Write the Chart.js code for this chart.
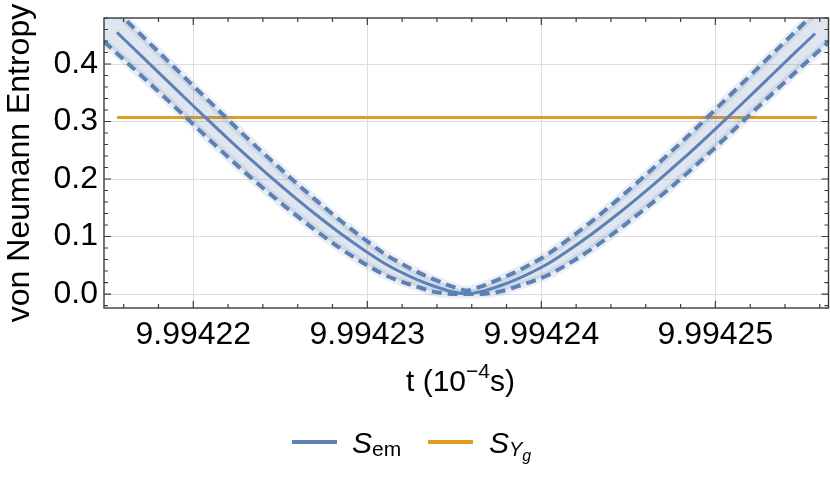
<!DOCTYPE html>
<html>
<head>
<meta charset="utf-8">
<script src="https://cdn.jsdelivr.net/npm/chart.js@4.4.1/dist/chart.umd.min.js"></script>
<style>
  html, body { margin: 0; padding: 0; background: #fff; }
  #wrap { position: relative; width: 830px; height: 485px; font-family: 'Liberation Sans', Arial, sans-serif; color: #000; }
  #c { position: absolute; left: 0; top: 0; }
  .txt { position: absolute; white-space: nowrap; line-height: 30px; font-size: 30px; }
  .txt sup, .txt sub { line-height: 0; }
  .lgline { position: absolute; height: 3.5px; }
</style>
</head>
<body>
<div id="wrap">
  <canvas id="c" width="830" height="485"></canvas>
  <div class="txt" id="xtitle" style="left:406px; top:366px;">t (10<sup style="font-size:21px; vertical-align:13px;">&minus;4</sup>s)</div>
  <div class="lgline" style="left:292px; top:440px; width:45px; background:#5e81b5;"></div>
  <div class="txt" style="left:352px; top:428px;"><i>S</i><sub style="font-size:21px; vertical-align:-3px;">em</sub></div>
  <div class="lgline" style="left:428px; top:440px; width:45px; background:#e19c24;"></div>
  <div class="txt" style="left:489px; top:428px;"><i>S</i><sub style="font-size:20px; vertical-align:-3px;"><i>Y</i><sub style="font-size:16px; vertical-align:-5px;"><i>g</i></sub></sub></div>
</div>
<script>
// ---- data (t in units of 10^-4 s) ----
const tCenter = [9.99421561, 9.99421702, 9.99421846, 9.99421990, 9.99422133, 9.99422277, 9.99422421, 9.99422564, 9.99422708, 9.99422852, 9.99422995, 9.99423110, 9.99423196, 9.99423283, 9.99423369, 9.99423426, 9.99423467, 9.99423513, 9.99423541, 9.99423570, 9.99423599, 9.99423627, 9.99423673, 9.99423714, 9.99423771, 9.99423857, 9.99423944, 9.99424030, 9.99424145, 9.99424288, 9.99424432, 9.99424576, 9.99424719, 9.99424863, 9.99425007, 9.99425150, 9.99425294, 9.99425438, 9.99425573];
const sCenter = [0.455, 0.414, 0.372, 0.330, 0.289, 0.2485, 0.210, 0.173, 0.1374, 0.104, 0.0737, 0.0513, 0.0377, 0.0255, 0.0153, 0.0093, 0.0055, 0.0025, 0.0008, 0, 0.0008, 0.0025, 0.0055, 0.0093, 0.0153, 0.0255, 0.0377, 0.0513, 0.0737, 0.104, 0.1374, 0.173, 0.210, 0.2485, 0.289, 0.330, 0.372, 0.414, 0.453];

const tBand = [9.99421487, 9.99421702, 9.99421846, 9.99421990, 9.99422133, 9.99422277, 9.99422421, 9.99422564, 9.99422708, 9.99422852, 9.99422995, 9.99423110, 9.99423196, 9.99423283, 9.99423369, 9.99423426, 9.99423467, 9.99423513, 9.99423541, 9.99423570, 9.99423599, 9.99423627, 9.99423673, 9.99423714, 9.99423771, 9.99423857, 9.99423944, 9.99424030, 9.99424145, 9.99424288, 9.99424432, 9.99424576, 9.99424719, 9.99424863, 9.99425007, 9.99425150, 9.99425294, 9.99425438, 9.99425653];
const sUpper = [0.513, 0.450, 0.4075, 0.365, 0.323, 0.2805, 0.240, 0.2005, 0.1624, 0.126, 0.0927, 0.0678, 0.0527, 0.039, 0.0273, 0.0203, 0.015, 0.0105, 0.0078, 0.006, 0.0078, 0.0105, 0.015, 0.0203, 0.0273, 0.039, 0.0527, 0.0678, 0.0927, 0.126, 0.1624, 0.2005, 0.240, 0.2805, 0.323, 0.365, 0.4075, 0.450, 0.513];
const sLower = [0.439, 0.3795, 0.339, 0.298, 0.257, 0.217, 0.179, 0.1435, 0.1094, 0.078, 0.0507, 0.0318, 0.0217, 0.013, 0.0048, 0.0018, 0.0005, 0, 0, 0, 0, 0, 0.0005, 0.0018, 0.0048, 0.013, 0.0217, 0.0318, 0.0507, 0.078, 0.1094, 0.1435, 0.179, 0.217, 0.257, 0.298, 0.339, 0.3795, 0.439];

const tYg = [9.99421562, 9.99425583];
const sYg = [0.307, 0.307];

const xTickValues = [9.99422, 9.99423, 9.99424, 9.99425];
const xTickLabels = ['9.99422', '9.99423', '9.99424', '9.99425'];
const yTickValues = [0, 0.1, 0.2, 0.3, 0.4];
const yTickLabels = ['0.0', '0.1', '0.2', '0.3', '0.4'];

const xMin = 9.99421487, xMax = 9.9942565;
const yMin = -0.0243, yMax = 0.48;

const BLUE = '#5e81b5', ORANGE = '#e19c24';
const HALO = 'rgba(94,129,181,0.13)';
const FONT = "'Liberation Sans', Arial, sans-serif";

function zip(xs, ys) { return xs.map((x, i) => ({ x: x, y: ys[i] })); }

// minor ticks
const xMinor = [];
for (let m = 9.99421; m <= 9.99426 + 1e-9; m += 1e-5) {
  for (let j = 1; j < 5; j++) xMinor.push(m + j * 2e-6);
}
const yMinor = [];
for (let k = -1; k <= 24; k++) { if (k % 5 !== 0) yMinor.push(k * 0.02); }

const frameTicks = {
  id: 'frameTicks',
  afterDatasetsDraw(chart) {
    const ctx = chart.ctx, a = chart.chartArea;
    const xs = chart.scales.x, ys = chart.scales.y;
    ctx.save();
    ctx.strokeStyle = '#3a3a3a';
    ctx.lineWidth = 1.2;
    ctx.beginPath();
    const xt = (v, len) => {
      const p = xs.getPixelForValue(v);
      if (p < a.left - 0.5 || p > a.right + 0.5) return;
      ctx.moveTo(p, a.bottom); ctx.lineTo(p, a.bottom - len);
      ctx.moveTo(p, a.top); ctx.lineTo(p, a.top + len);
    };
    const yt = (v, len) => {
      const p = ys.getPixelForValue(v);
      if (p < a.top - 0.5 || p > a.bottom + 0.5) return;
      ctx.moveTo(a.left, p); ctx.lineTo(a.left + len, p);
      ctx.moveTo(a.right, p); ctx.lineTo(a.right - len, p);
    };
    xMinor.forEach(v => xt(v, 4));
    xTickValues.forEach(v => xt(v, 7));
    yMinor.forEach(v => yt(v, 4));
    yTickValues.forEach(v => yt(v, 7));
    ctx.stroke();
    ctx.lineWidth = 1.4;
    ctx.strokeRect(a.left, a.top, a.right - a.left, a.bottom - a.top);
    ctx.restore();
  }
};

new Chart(document.getElementById('c'), {
  type: 'line',
  data: {
    datasets: [
      { label: 'upper', data: zip(tBand, sUpper), borderColor: BLUE, borderWidth: 4, borderDash: [10, 6],
        borderCapStyle: 'butt', fill: '+1', backgroundColor: 'rgba(94,129,181,0.2)',
        pointRadius: 0, cubicInterpolationMode: 'monotone', order: 2, clip: 0 },
      { label: 'lower', data: zip(tBand, sLower), borderColor: BLUE, borderWidth: 4, borderDash: [10, 6],
        borderCapStyle: 'butt', fill: false, pointRadius: 0, cubicInterpolationMode: 'monotone', order: 2, clip: 0 },
      { label: 'S_em', data: zip(tCenter, sCenter), borderColor: BLUE, borderWidth: 3, fill: false,
        pointRadius: 0, cubicInterpolationMode: 'monotone', order: 1, clip: 0 },
      { label: 'S_Yg', data: zip(tYg, sYg), borderColor: ORANGE, borderWidth: 3, borderCapStyle: 'butt',
        fill: false, pointRadius: 0, order: 5, clip: 0 },
      { label: 'upper edge', data: zip(tBand, sUpper), borderColor: HALO, borderWidth: 9, fill: false,
        pointRadius: 0, cubicInterpolationMode: 'monotone', order: 3, clip: 0 },
      { label: 'lower edge', data: zip(tBand, sLower), borderColor: HALO, borderWidth: 9, fill: false,
        pointRadius: 0, cubicInterpolationMode: 'monotone', order: 3, clip: 0 }
    ]
  },
  options: {
    responsive: false,
    animation: false,
    devicePixelRatio: 1,
    layout: { padding: { left: 0, right: 1.5, top: 18, bottom: 0 } },
    plugins: { legend: { display: false }, tooltip: { enabled: false } },
    events: [],
    scales: {
      x: {
        type: 'linear', min: xMin, max: xMax,
        afterFit: s => { s.height = 177; s.paddingLeft = 0; s.paddingRight = 0; },
        afterBuildTicks: s => { s.ticks = xTickValues.map(v => ({ value: v })); },
        ticks: {
          callback: (v, i) => xTickLabels[i],
          font: { family: FONT, size: 32 }, color: '#000', padding: 8,
          maxRotation: 0, minRotation: 0, autoSkip: false
        },
        grid: { color: '#dddddd', lineWidth: 1, drawTicks: false },
        border: { display: false }
      },
      y: {
        type: 'linear', min: yMin, max: yMax,
        afterFit: s => { s.width = 104; s.paddingTop = 0; s.paddingBottom = 0; },
        afterBuildTicks: s => { s.ticks = yTickValues.map(v => ({ value: v })); },
        ticks: {
          callback: (v, i) => yTickLabels[i],
          font: { family: FONT, size: 32 }, color: '#000', padding: 6, autoSkip: false
        },
        grid: { color: '#dddddd', lineWidth: 1, drawTicks: false },
        border: { display: false },
        title: { display: true, text: 'von Neumann Entropy', color: '#000',
          font: { family: FONT, size: 32 }, padding: { top: 1, bottom: 0 } }
      }
    }
  },
  plugins: [frameTicks]
});
</script>
</body>
</html>
